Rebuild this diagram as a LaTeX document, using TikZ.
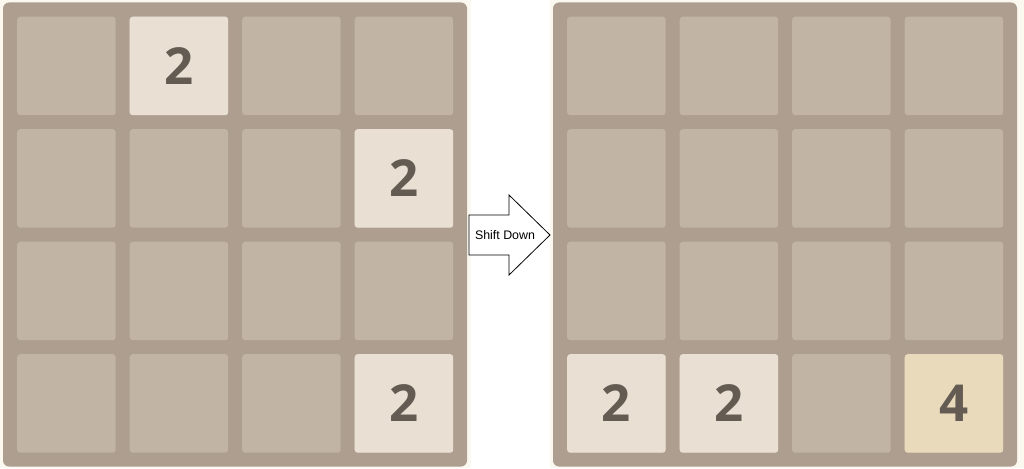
\documentclass[tikz,border=0pt]{standalone}
\usepackage{fontspec}
\newfontfamily\tilefont{Open Sans}
\newfontfamily\labelfont{Liberation Sans}
\definecolor{cream}{HTML}{FAF8EF}
\definecolor{boardc}{HTML}{AD9E90}
\definecolor{emptyc}{HTML}{C1B4A5}
\definecolor{twoc}{HTML}{EADFD3}
\definecolor{fourc}{HTML}{E8DABB}
\definecolor{digitc}{HTML}{645B52}
\tikzset{
  board/.style={fill=boardc, draw=none, rounded corners=6pt},
  tile/.style={draw=none, rounded corners=3pt, minimum width=98.5pt, minimum height=98.5pt,
    inner sep=0pt, anchor=north west, fill=emptyc,
    font=\tilefont\bfseries\fontsize{51}{51}\selectfont, text=digitc},
  two/.style={fill=twoc},
  four/.style={fill=fourc},
  arrowshape/.style={draw=black, fill=white, line width=0.8pt, line join=miter},
  arrowlabel/.style={font=\labelfont\fontsize{12.4}{14}\selectfont, inner sep=0pt}
}
\begin{document}
\begin{tikzpicture}[x=1pt,y=-1pt]
\useasboundingbox (0,0) rectangle (1024,468);
\fill[white] (0,0) rectangle (1024,468);
\fill[cream] (0,0) rectangle (471,468);
\fill[cream] (550,0) rectangle (1024,468);
% boards
\path[board] (3,2.5) rectangle (467,466.5);
\path[board] (553,2.5) rectangle (1017,466.5);
% tiles
\foreach \r in {0,...,3}{
  \foreach \c in {0,...,3}{
    \node[tile] (L-\r-\c) at ({3+14+\c*112.5},{2.5+14+\r*112.5}) {};
    \node[tile] (R-\r-\c) at ({553+14+\c*112.5},{2.5+14+\r*112.5}) {};
  }
}
% numbered tiles, left
\node[tile,two] (L2a) at ({3+14+1*112.5},{2.5+14+0*112.5}) {2};
\node[tile,two] (L2b) at ({3+14+3*112.5},{2.5+14+1*112.5}) {2};
\node[tile,two] (L2c) at ({3+14+3*112.5},{2.5+14+3*112.5}) {2};
% numbered tiles, right
\node[tile,two] (R2a) at ({553+14+0*112.5},{2.5+14+3*112.5}) {2};
\node[tile,two] (R2b) at ({553+14+1*112.5},{2.5+14+3*112.5}) {2};
\node[tile,four] (R4) at ({553+14+3*112.5},{2.5+14+3*112.5}) {4};
% arrow
\coordinate (tail) at (469,235);
\coordinate (tip) at (550,235);
\draw[arrowshape] (469,215) -- (509,215) -- (509,195) -- (tip) -- (509,275) -- (509,255) -- (469,255) -- cycle;
\node[arrowlabel] (shift) at (505,235) {Shift Down};
\end{tikzpicture}
\end{document}
